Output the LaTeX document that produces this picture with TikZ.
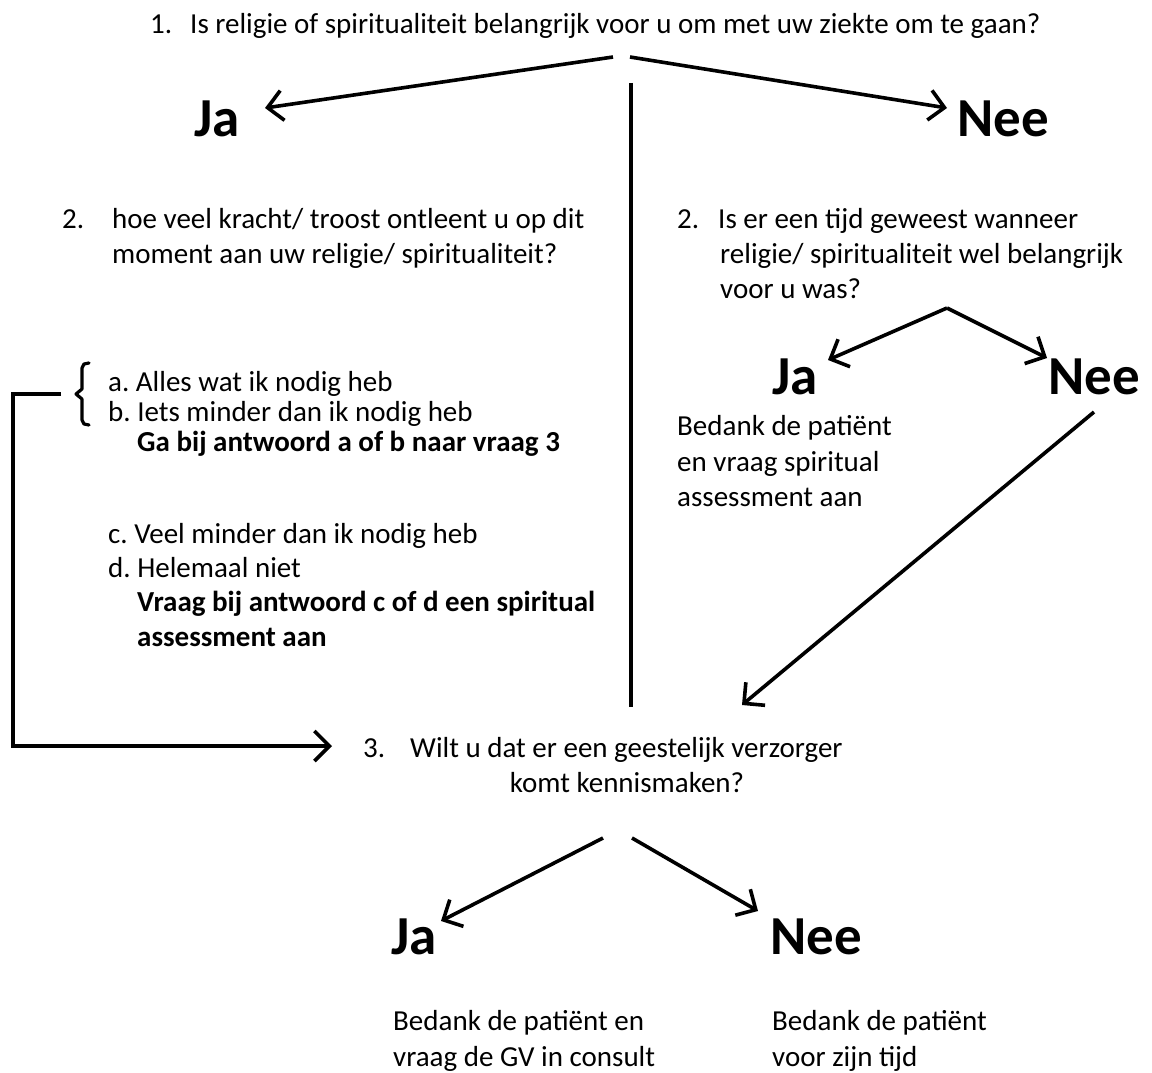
\documentclass[tikz,border=0pt]{standalone}
\usepackage{fontspec}
\setmainfont{Carlito}
\usetikzlibrary{arrows.meta}
\frenchspacing
\begin{document}
\begin{tikzpicture}[x=1pt,y=-1pt,
  txt/.style={anchor=base west, inner sep=0pt, font=\fontsize{29}{35}\selectfont},
  btxt/.style={anchor=base west, inner sep=0pt, font=\fontsize{29}{35}\selectfont\bfseries},
  ctxt/.style={anchor=base, inner sep=0pt, font=\fontsize{29}{35}\selectfont},
  big/.style={anchor=base west, inner sep=0pt, font=\fontsize{55}{62}\selectfont\bfseries},
  conn/.style={line width=3.6pt, -{Straight Barb[length=15pt,width=30pt]}},
  plainline/.style={line width=3.6pt}]
\useasboundingbox (0,0) rectangle (1152,1073);
\fill[white] (0,0) rectangle (1152,1073);

% question 1
\node[txt] (q1num) at (150,34) {1.};
\node[txt] (q1) at (190,34) {Is religie of spiritualiteit belangrijk voor u om met uw ziekte om te gaan?};
\node[big] (ja1) at (194,136) {Ja};
\node[big] (nee1) at (957,136) {Nee};

% left question 2
\node[txt] (q2lnum) at (62,228) {2.};
\node[txt] (q2la) at (112,228) {hoe veel kracht/ troost ontleent u op dit};
\node[txt] (q2lb) at (112,263) {moment aan uw religie/ spiritualiteit?};

\node[txt] (ansa) at (108,391) {a. Alles wat ik nodig heb};
\node[txt] (ansb) at (108,421) {b. Iets minder dan ik nodig heb};
\node[btxt] (goab) at (137,451) {Ga bij antwoord a of b naar vraag 3};
\node[txt] (ansc) at (108,543) {c. Veel minder dan ik nodig heb};
\node[txt] (ansd) at (108,577) {d. Helemaal niet};
\node[btxt] (vraagcd) at (137,611) {Vraag bij antwoord c of d een spiritual};
\node[btxt] (vraagcd2) at (137,646) {assessment aan};

% right question 2
\node[txt] (q2rnum) at (677,228) {2.};
\node[txt] (q2ra) at (718,228) {Is er een tijd geweest wanneer};
\node[txt] (q2rb) at (720,263) {religie/ spiritualiteit wel belangrijk};
\node[txt] (q2rc) at (720,298) {voor u was?};
\node[big] (ja2) at (772,394) {Ja};
\node[big] (nee2) at (1048,394) {Nee};
\node[txt] (bed1a) at (677,435) {Bedank de patiënt};
\node[txt] (bed1b) at (677,471) {en vraag spiritual};
\node[txt] (bed1c) at (677,506) {assessment aan};

% question 3
\node[txt] (q3num) at (363,757) {3.};
\node[txt] (q3a) at (410,757) {Wilt u dat er een geestelijk verzorger};
\node[ctxt] (q3b) at (627,792) {komt kennismaken?};
\node[big] (ja3) at (391,954) {Ja};
\node[big] (nee3) at (770,954) {Nee};
\node[txt] (bed2a) at (393,1030) {Bedank de patiënt en};
\node[txt] (bed2b) at (393,1066) {vraag de GV in consult};
\node[txt] (bed3a) at (772,1030) {Bedank de patiënt};
\node[txt] (bed3b) at (772,1066) {voor zijn tijd};

% connector end points
\coordinate (q1L) at (613,57);
\coordinate (q1R) at (630,57);
\coordinate (ja1tip) at (265,108);
\coordinate (nee1tip) at (947,108);
\coordinate (vtop) at (631,83);
\coordinate (vbot) at (631,707);
\coordinate (q2apex) at (947,308);
\coordinate (ja2tip) at (828,360);
\coordinate (nee2tip) at (1047,358);
\coordinate (nee2out) at (1094,412);
\coordinate (q3in) at (742,705);
\coordinate (brk) at (61,394);
\coordinate (loopc1) at (13,394);
\coordinate (loopc2) at (13,746);
\coordinate (q3left) at (332,746);
\coordinate (q3L) at (603,838);
\coordinate (q3R) at (632,838);
\coordinate (ja3tip) at (441,921);
\coordinate (nee3tip) at (758,911);

% connectors
\draw[conn] (q1L) -- (ja1tip);
\draw[conn] (q1R) -- (nee1tip);
\draw[plainline] (vtop) -- (vbot);
\draw[conn] (q2apex) -- (ja2tip);
\draw[conn] (q2apex) -- (nee2tip);
\draw[conn] (nee2out) -- (q3in);
\draw[conn, line join=miter] (brk) -- (loopc1) -- (loopc2) -- (q3left);
\draw[conn] (q3L) -- (ja3tip);
\draw[conn] (q3R) -- (nee3tip);

% bracket
\draw[line width=3.2pt, line join=round, line cap=round]
  (89,363) -- (84,364) -- (82,368) -- (82,389) -- (76,394) -- (82,399) -- (82,420) -- (84,424) -- (89,425);
\end{tikzpicture}
\end{document}
